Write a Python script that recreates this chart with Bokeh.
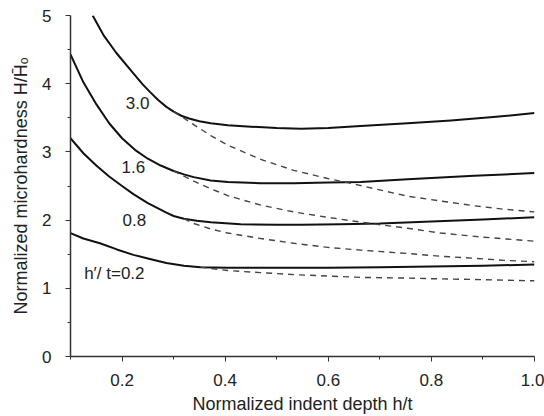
from bokeh.plotting import figure
from bokeh.models import Range1d, FixedTicker, PrintfTickFormatter, ColumnDataSource
from bokeh.core.properties import value
from bokeh.embed import file_html
from bokeh.resources import INLINE

# Solid curves (full model), h'/t = 3.0, 1.6, 0.8, 0.2
s30_x = [0.143, 0.165, 0.189, 0.222, 0.24, 0.254, 0.27, 0.286, 0.30, 0.315, 0.33, 0.35, 0.372, 0.405, 0.45, 0.50, 0.547, 0.60, 0.663, 0.754, 0.838, 0.92, 1.0]
s30_y = [5.0, 4.70, 4.45, 4.15, 3.99, 3.88, 3.76, 3.66, 3.59, 3.53, 3.49, 3.45, 3.42, 3.39, 3.37, 3.35, 3.34, 3.35, 3.38, 3.42, 3.46, 3.51, 3.57]

s16_x = [0.10, 0.125, 0.15, 0.175, 0.20, 0.225, 0.25, 0.275, 0.30, 0.32, 0.339, 0.372, 0.405, 0.469, 0.533, 0.60, 0.663, 0.754, 0.883, 1.0]
s16_y = [4.43, 4.02, 3.70, 3.42, 3.20, 3.03, 2.90, 2.80, 2.72, 2.67, 2.63, 2.58, 2.56, 2.54, 2.54, 2.55, 2.56, 2.60, 2.65, 2.69]

s08_x = [0.10, 0.125, 0.15, 0.175, 0.20, 0.222, 0.25, 0.286, 0.30, 0.32, 0.345, 0.372, 0.43, 0.50, 0.547, 0.624, 0.70, 0.80, 0.90, 1.0]
s08_y = [3.20, 2.98, 2.80, 2.64, 2.50, 2.38, 2.25, 2.11, 2.06, 2.02, 1.99, 1.97, 1.94, 1.93, 1.93, 1.94, 1.95, 1.98, 2.01, 2.04]

s02_x = [0.10, 0.125, 0.157, 0.19, 0.222, 0.254, 0.286, 0.32, 0.352, 0.405, 0.50, 0.60, 0.70, 0.80, 0.90, 1.0]
s02_y = [1.81, 1.73, 1.66, 1.57, 1.49, 1.43, 1.37, 1.33, 1.31, 1.30, 1.30, 1.30, 1.31, 1.32, 1.33, 1.35]

# Dashed curves (continuation without substrate effect)
d30_x = [0.30, 0.315, 0.339, 0.372, 0.405, 0.469, 0.533, 0.599, 0.655, 0.754, 0.818, 0.883, 0.94, 1.0]
d30_y = [3.59, 3.52, 3.40, 3.24, 3.10, 2.89, 2.73, 2.61, 2.52, 2.35, 2.28, 2.21, 2.16, 2.12]

d16_x = [0.30, 0.339, 0.372, 0.405, 0.436, 0.469, 0.533, 0.599, 0.663, 0.754, 0.818, 0.90, 1.0]
d16_y = [2.72, 2.57, 2.46, 2.36, 2.29, 2.22, 2.12, 2.04, 1.97, 1.88, 1.81, 1.75, 1.69]

d08_x = [0.32, 0.339, 0.372, 0.405, 0.469, 0.533, 0.599, 0.663, 0.754, 0.818, 0.883, 0.94, 1.0]
d08_y = [2.02, 1.95, 1.87, 1.81, 1.73, 1.66, 1.60, 1.56, 1.51, 1.47, 1.44, 1.41, 1.39]

d02_x = [0.352, 0.405, 0.469, 0.533, 0.599, 0.663, 0.754, 0.805, 0.883, 1.0]
d02_y = [1.31, 1.26, 1.23, 1.20, 1.18, 1.16, 1.15, 1.14, 1.13, 1.11]

curve_labels = ["3.0", "1.6", "0.8", "h\u2032/ t=0.2"]
label_x = [0.23, 0.222, 0.224, 0.185]
label_y = [3.72, 2.78, 2.00, 1.22]

x_major = [0.2, 0.4, 0.6, 0.8, 1.0]
x_minor = [0.1, 0.3, 0.5, 0.7, 0.9]
y_major = [0, 1, 2, 3, 4, 5]
y_minor = [0.5, 1.5, 2.5, 3.5, 4.5]

FONT = "Liberation Sans"
AX = "#333333"

p = figure(width=544, height=416, output_backend="svg", toolbar_location=None,
           x_range=Range1d(0.1, 1.0), y_range=Range1d(0, 5),
           min_border_left=70, min_border_right=10, min_border_top=15, min_border_bottom=60)
p.outline_line_color = None
p.grid.visible = False
p.background_fill_color = "white"
p.border_fill_color = "white"

for xs, ys in [(s30_x, s30_y), (s16_x, s16_y), (s08_x, s08_y), (s02_x, s02_y)]:
    p.line(xs, ys, line_color="#111111", line_width=2.0, line_join="round")
for xs, ys in [(d30_x, d30_y), (d16_x, d16_y), (d08_x, d08_y), (d02_x, d02_y)]:
    p.line(xs, ys, line_color="#444444", line_width=1.4, line_dash="6 5")

src = ColumnDataSource(dict(x=label_x, y=label_y, t=curve_labels))
p.text(x="x", y="y", text="t", source=src, text_font=value(FONT), text_font_size="17px",
       text_align="center", text_baseline="middle", text_color="#222222")

p.xaxis.ticker = FixedTicker(ticks=x_major, minor_ticks=x_minor)
p.yaxis.ticker = FixedTicker(ticks=y_major, minor_ticks=y_minor)
p.xaxis.formatter = PrintfTickFormatter(format="%.1f")
p.yaxis.formatter = PrintfTickFormatter(format="%d")

p.xaxis.axis_label = "Normalized indent depth h/t"
p.yaxis.axis_label = "Normalized microhardness H/H\u0304\u2092"

for ax in (p.xaxis, p.yaxis):
    ax.axis_line_color = AX
    ax.axis_line_width = 1.5
    ax.major_tick_line_color = AX
    ax.minor_tick_line_color = AX
    ax.major_tick_out = 5
    ax.major_tick_in = 0
    ax.minor_tick_out = 3
    ax.minor_tick_in = 0
    ax.major_label_text_font = FONT
    ax.major_label_text_font_size = "17px"
    ax.major_label_text_color = "#222222"
    ax.axis_label_text_font = FONT
    ax.axis_label_text_font_size = "18px"
    ax.axis_label_text_font_style = "normal"
    ax.axis_label_text_color = "#222222"

p.xaxis.major_label_standoff = 12
p.yaxis.major_label_standoff = 14
p.xaxis.axis_label_standoff = 5
p.yaxis.axis_label_standoff = 8

open("out.html", "w").write(file_html(p, INLINE))
